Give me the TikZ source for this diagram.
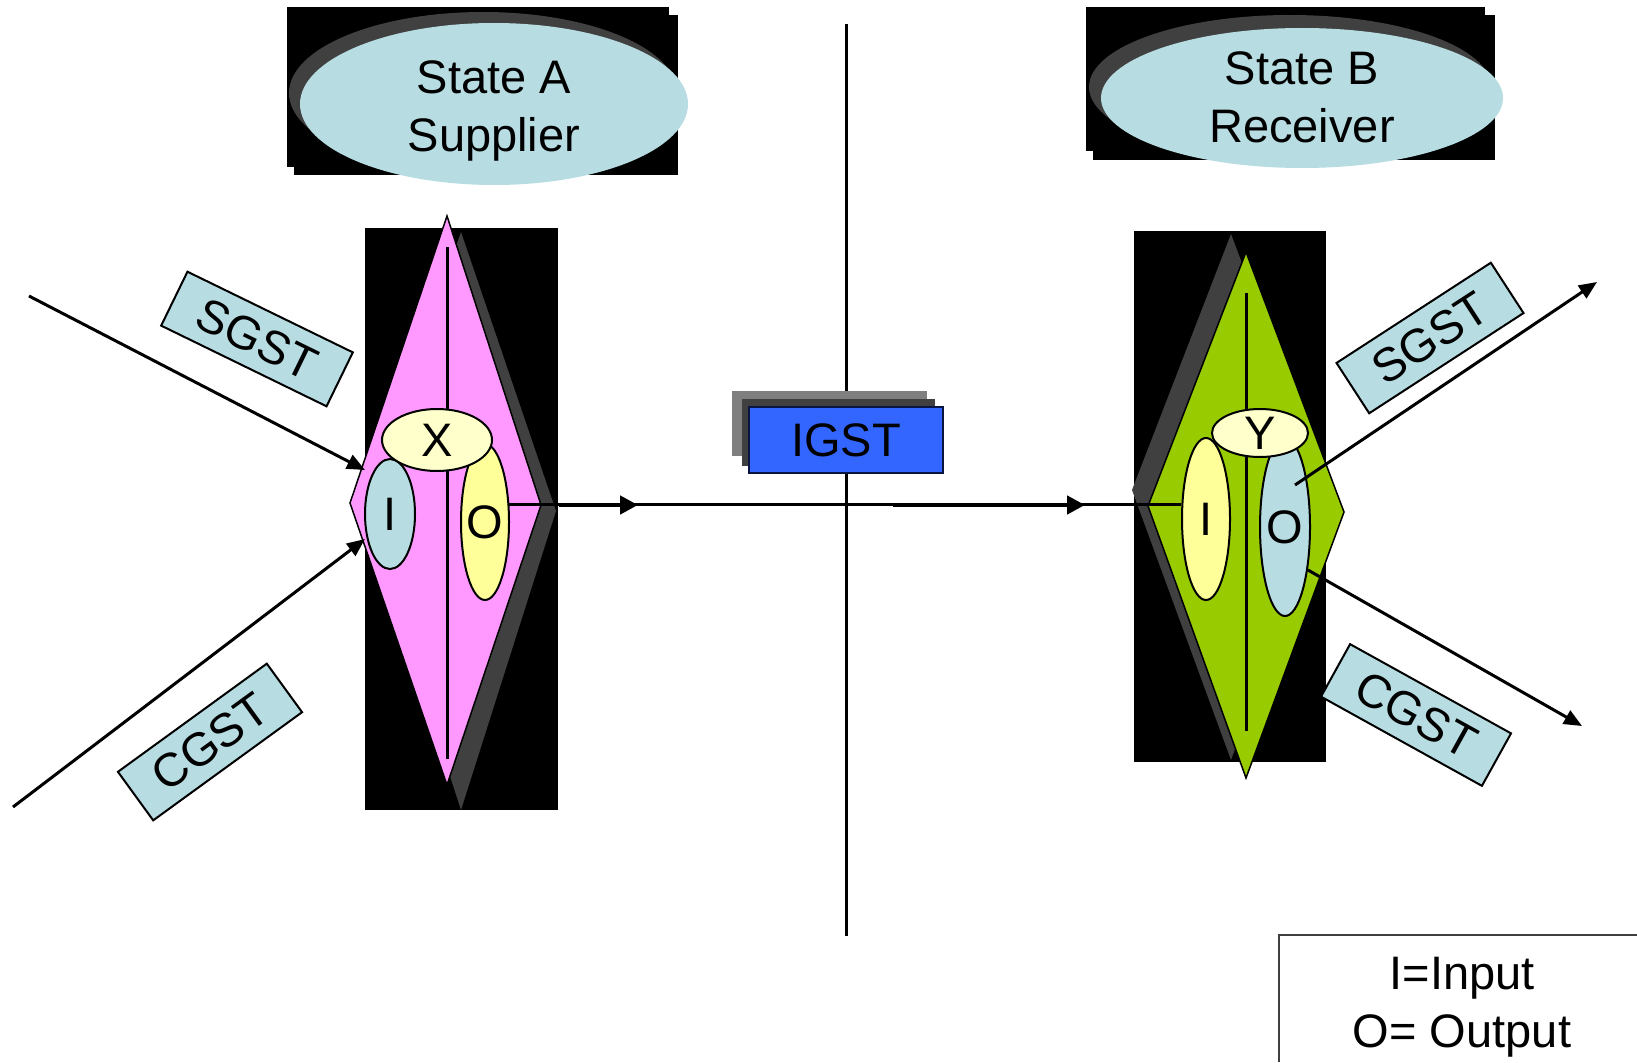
\documentclass[tikz,border=0pt]{standalone}
\usepackage{fontspec}
\setmainfont{Liberation Sans}
\usetikzlibrary{shapes.geometric,arrows.meta}
\definecolor{pinkfill}{HTML}{FF99FF}
\definecolor{greenfill}{HTML}{99CC00}
\definecolor{aqua}{HTML}{B7DDE3}
\definecolor{yel}{HTML}{FFFF99}
\definecolor{paleyel}{HTML}{FFFFCC}
\definecolor{igstblue}{HTML}{3366FF}
\definecolor{shadowgray}{HTML}{404040}
\definecolor{lightshadow}{HTML}{7F7F7F}
\definecolor{navy}{HTML}{0A1440}
\begin{document}
\begin{tikzpicture}[x=1pt,y=-1pt,
  every node/.style={font=\fontsize{47}{58}\selectfont},
  oval/.style={ellipse, draw=black, line width=2pt, inner sep=0pt},
  tag/.style={draw=black, line width=2pt, fill=aqua, minimum width=184pt, minimum height=60pt, inner sep=0pt},
  conn/.style={draw=black, line width=3pt},
  arr/.style={conn, -{Triangle[length=18pt,width=15pt]}},
  thickarr/.style={draw=black, line width=4.5pt, -{Triangle[length=18pt,width=18pt]}},
  midline/.style={draw=black, line width=3pt},
]
\useasboundingbox (0,0) rectangle (1637,1062);

% ---------- State A ----------
\fill (287,7) rectangle (669,167);
\fill (294,15) rectangle (678,175);
\fill[shadowgray] (483,93) ellipse [x radius=194pt, y radius=81pt];
\node[ellipse, fill=aqua, minimum width=388pt, minimum height=162pt, inner sep=0pt] (stA) at (494,104) {};
\node[align=center, inner sep=0pt] (stAtext) at (494,111) {State A\\Supplier};

% ---------- State B ----------
\fill (1086,7) rectangle (1485,151);
\fill (1093,15) rectangle (1495,160);
\fill[shadowgray] (1290,87) ellipse [x radius=201pt, y radius=72pt];
\node[ellipse, fill=aqua, minimum width=402pt, minimum height=140pt, inner sep=0pt] (stB) at (1302,98) {};
\node[align=center, inner sep=0pt] (stBtext) at (1302,97) {State B\\Receiver};

% ---------- divider ----------
\coordinate (divTop) at (846,24);
\coordinate (divBot) at (846,936);
\draw[line width=3pt] (divTop) -- (divBot);

% ---------- left group (supplier) ----------
\fill (365,228) rectangle (558,810);
\fill[shadowgray] (461,232) -- (556,511) -- (461,810) -- (364,511) -- cycle;
\filldraw[fill=pinkfill, draw=black, line width=1.5pt] (447,216) -- (541,505) -- (447,785) -- (350,503) -- cycle;
\draw[midline] (447,247) -- (447,759);

% ---------- right group (receiver) ----------
\fill (1134,231) rectangle (1326,762);
\fill[shadowgray] (1231,234) -- (1329,494) -- (1231,760) -- (1132,490) -- cycle;
\filldraw[fill=greenfill, draw=black, line width=1.5pt] (1246,252) -- (1344,512) -- (1246,778) -- (1148,506) -- cycle;
\draw[midline] (1246,293) -- (1246,731);

% ellipses left
\node[oval, fill=aqua, minimum width=50pt, minimum height=110pt, label=center:I] (IA) at (390,514) {};
\node[oval, fill=yel, minimum width=48pt, minimum height=156pt, label=center:O] (OA) at (485,522) {};
\node[oval, fill=paleyel, minimum width=110pt, minimum height=62pt, label=center:X] (XA) at (437,440) {};

% ellipses right
\node[oval, fill=yel, minimum width=48pt, minimum height=162pt, label=center:I] (IB) at (1206,519) {};
\node[oval, fill=aqua, minimum width=50pt, minimum height=178pt, label=center:O] (OB) at (1285,527) {};
\node[oval, fill=paleyel, minimum width=96pt, minimum height=48pt, label=center:Y] (YB) at (1260,433) {};

% ---------- IGST shadows ----------
\fill[lightshadow] (732,391) rectangle (927,456);
\fill[shadowgray] (742,399) rectangle (935,466);

% horizontal flow
\draw[conn] (OA.36) -- (OA.36 -| IB.west);
\coordinate (a1s) at (559,505);
\coordinate (a1e) at (638,505);
\coordinate (a2s) at (893,505);
\coordinate (a2e) at (1085,505);
\draw[thickarr] (a1s) -- (a1e);
\draw[thickarr] (a2s) -- (a2e);

\node[draw=navy, line width=2pt, fill=igstblue, minimum width=194pt, minimum height=66pt, inner sep=0pt] (igst) at (846,440) {IGST};

% ---------- tax arrows ----------
\coordinate (sgLs) at (29,296);
\coordinate (sgLe) at (365,470);
\coordinate (cgLs) at (13,807);
\coordinate (cgLe) at (365,539);
\draw[arr] (sgLs) -- (sgLe);
\draw[arr] (cgLs) -- (cgLe);

\coordinate (sgRs) at (1295,485);
\coordinate (sgRe) at (1597,282);
\coordinate (cgRe) at (1582,726);
\draw[arr] (sgRs) -- (sgRe);
\draw[arr] (OB.-62) -- (cgRe);

% ---------- tags ----------
\node[tag, rotate=-26] (sgstL) at (257,339) {SGST};
\node[tag, rotate=36] (cgstL) at (210,742) {CGST};
\node[tag, rotate=33] (sgstR) at (1430,338) {SGST};
\node[tag, rotate=-29] (cgstR) at (1416,715) {CGST};

% ---------- legend ----------
\coordinate (legBL) at (1279,1062);
\coordinate (legTL) at (1279,935);
\coordinate (legTR) at (1637,935);
\draw[line width=2.5pt, black!75] (legBL) -- (legTL) -- (legTR);
\node[align=center, inner sep=0pt] (legend) at (1462,1007) {I=Input\\O= Output};
\end{tikzpicture}
\end{document}
